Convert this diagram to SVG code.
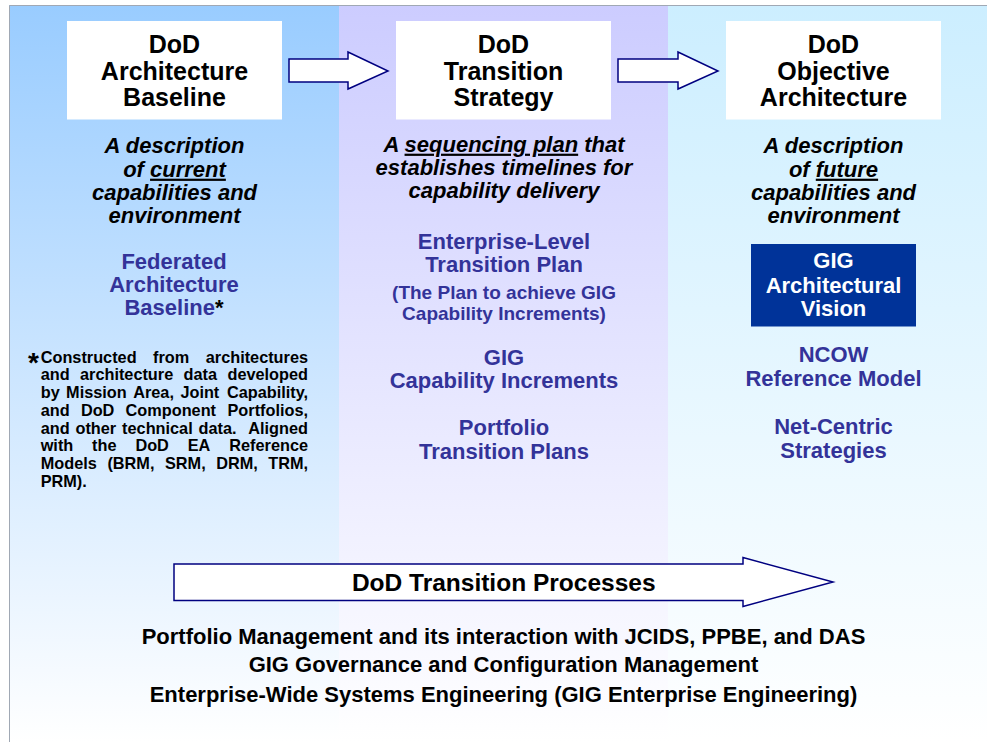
<svg xmlns="http://www.w3.org/2000/svg" width="987" height="742" viewBox="0 0 987 742">
<defs>
<linearGradient id="gL" gradientUnits="userSpaceOnUse" x1="0" y1="5" x2="0" y2="742"><stop offset="0" stop-color="#99ccff"/><stop offset="1" stop-color="#ffffff"/></linearGradient>
<linearGradient id="gM" gradientUnits="userSpaceOnUse" x1="0" y1="5" x2="0" y2="742"><stop offset="0" stop-color="#ccccff"/><stop offset="1" stop-color="#ffffff"/></linearGradient>
<linearGradient id="gR" gradientUnits="userSpaceOnUse" x1="0" y1="5" x2="0" y2="742"><stop offset="0" stop-color="#cceeff"/><stop offset="1" stop-color="#ffffff"/></linearGradient>
<style>
text{font-family:"Liberation Sans",Arial,sans-serif;font-weight:bold}
.c{text-anchor:middle}
.t{font-size:25px;fill:#000}
.i{font-size:22px;font-style:italic;fill:#000}
.b{font-size:22px;fill:#333399}
.p{font-size:19px;fill:#333399}
.w{font-size:22px;fill:#ffffff}
.f{font-size:16.3px;fill:#000}
.e{text-anchor:end}
.u{text-decoration:underline}
.box{fill:#ffffff}
.arr{fill:#ffffff;stroke:#000080;stroke-width:1.5;stroke-linejoin:miter}
.bt{font-size:22px;fill:#000}
</style>
</defs>
<rect x="0" y="0" width="987" height="742" fill="#ffffff"/>
<rect x="9" y="5" width="330" height="737" fill="url(#gL)"/>
<rect x="339" y="5" width="329" height="737" fill="url(#gM)"/>
<rect x="668" y="5" width="319" height="737" fill="url(#gR)"/>
<path d="M9.5 742V5.5H987" fill="none" stroke="#a0a8b4" stroke-width="1"/>

<g id="connectors">
<path class="arr" d="M289 59H348V52L388 71L348 89V82H289Z"/>
<path class="arr" d="M618 59H678V52L718 71L678 89V82H618Z"/>
<path class="arr" d="M174 564H743V557.5L833 582L743 606.5V600.5H174Z"/>
</g>

<g id="baseline">
<rect class="box" x="67" y="21" width="215" height="98.5"/>
<text class="t c" x="174.5" y="52.5">DoD</text>
<text class="t c" x="174.5" y="79.5">Architecture</text>
<text class="t c" x="174.5" y="106">Baseline</text>
<text class="i c" x="174.5" y="152.7">A description</text>
<text class="i c" x="174.5" y="176.7">of <tspan class="u">current</tspan></text>
<text class="i c" x="174.5" y="200">capabilities and</text>
<text class="i c" x="174.5" y="223.3">environment</text>
<text class="b c" x="174" y="269">Federated</text>
<text class="b c" x="174" y="291.7">Architecture</text>
<text class="b c" x="174" y="315">Baseline<tspan fill="#000">*</tspan></text>
</g>

<g id="footnote">
<text class="f" x="28" y="372" style="font-size:28px">*</text>
<text class="f" y="362.7"><tspan x="40.7">Constructed</tspan><tspan x="153">from</tspan></text>
<text class="f e" x="308" y="362.7">architectures</text>
<text class="f" y="380.4"><tspan x="40.7">and</tspan><tspan x="80">architecture</tspan><tspan x="183.6">data</tspan></text>
<text class="f e" x="308" y="380.4">developed</text>
<text class="f" y="398.1"><tspan x="40.7">by</tspan><tspan x="66.1">Mission</tspan><tspan x="133.2">Area,</tspan><tspan x="180.4">Joint</tspan></text>
<text class="f e" x="308" y="398.1">Capability,</text>
<text class="f" y="415.8"><tspan x="40.7">and</tspan><tspan x="80.9">DoD</tspan><tspan x="125.6">Component</tspan></text>
<text class="f e" x="308" y="415.8">Portfolios,</text>
<text class="f" y="433.5"><tspan x="40.7">and</tspan><tspan x="75.5">other</tspan><tspan x="122.1">technical</tspan><tspan x="198.6">data.</tspan></text>
<text class="f e" x="308" y="433.5">Aligned</text>
<text class="f" y="451.2"><tspan x="40.7">with</tspan><tspan x="92.1">the</tspan><tspan x="135.4">DoD</tspan><tspan x="187.7">EA</tspan></text>
<text class="f e" x="308" y="451.2">Reference</text>
<text class="f" y="468.9"><tspan x="40.7">Models</tspan><tspan x="107.4">(BRM,</tspan><tspan x="165">SRM,</tspan><tspan x="216.2">DRM,</tspan></text>
<text class="f e" x="308" y="468.9">TRM,</text>
<text class="f" x="40.7" y="486.6">PRM).</text>
</g>

<g id="transition">
<rect class="box" x="396" y="21" width="215" height="98.5"/>
<text class="t c" x="503.5" y="52.5">DoD</text>
<text class="t c" x="503.5" y="79.5">Transition</text>
<text class="t c" x="503.5" y="106">Strategy</text>
<text class="i c" x="504" y="151.7">A <tspan class="u">sequencing plan</tspan> that</text>
<text class="i c" x="504" y="175">establishes timelines for</text>
<text class="i c" x="504" y="198">capability delivery</text>
<text class="b c" x="504" y="249">Enterprise-Level</text>
<text class="b c" x="504" y="272">Transition Plan</text>
<text class="p c" x="504" y="299">(The Plan to achieve GIG</text>
<text class="p c" x="504" y="320">Capability Increments)</text>
<text class="b c" x="504" y="364.5">GIG</text>
<text class="b c" x="504" y="388">Capability Increments</text>
<text class="b c" x="504" y="435">Portfolio</text>
<text class="b c" x="504" y="459">Transition Plans</text>
</g>

<g id="objective">
<rect class="box" x="726" y="21" width="215" height="98.5"/>
<text class="t c" x="833.5" y="52.5">DoD</text>
<text class="t c" x="833.5" y="79.5">Objective</text>
<text class="t c" x="833.5" y="106">Architecture</text>
<text class="i c" x="833.5" y="152.7">A description</text>
<text class="i c" x="833.5" y="176.7">of <tspan class="u">future</tspan></text>
<text class="i c" x="833.5" y="200">capabilities and</text>
<text class="i c" x="833.5" y="223.3">environment</text>
<rect x="751" y="244" width="165" height="82.5" fill="#003399"/>
<text class="w c" x="833.5" y="268.3">GIG</text>
<text class="w c" x="833.5" y="292.7">Architectural</text>
<text class="w c" x="833.5" y="316">Vision</text>
<text class="b c" x="833.5" y="361.5">NCOW</text>
<text class="b c" x="833.5" y="385.5">Reference Model</text>
<text class="b c" x="833.5" y="433.5">Net-Centric</text>
<text class="b c" x="833.5" y="457.5">Strategies</text>
</g>

<g id="processes">
<text class="c" x="503.7" y="591" style="font-size:24.5px;fill:#000">DoD Transition Processes</text>
<text class="bt c" x="503.5" y="644.3">Portfolio Management and its interaction with JCIDS, PPBE, and DAS</text>
<text class="bt c" x="503.5" y="671.7">GIG Governance and Configuration Management</text>
<text class="bt c" x="503.5" y="701.7">Enterprise-Wide Systems Engineering (GIG Enterprise Engineering)</text>
</g>
</svg>
